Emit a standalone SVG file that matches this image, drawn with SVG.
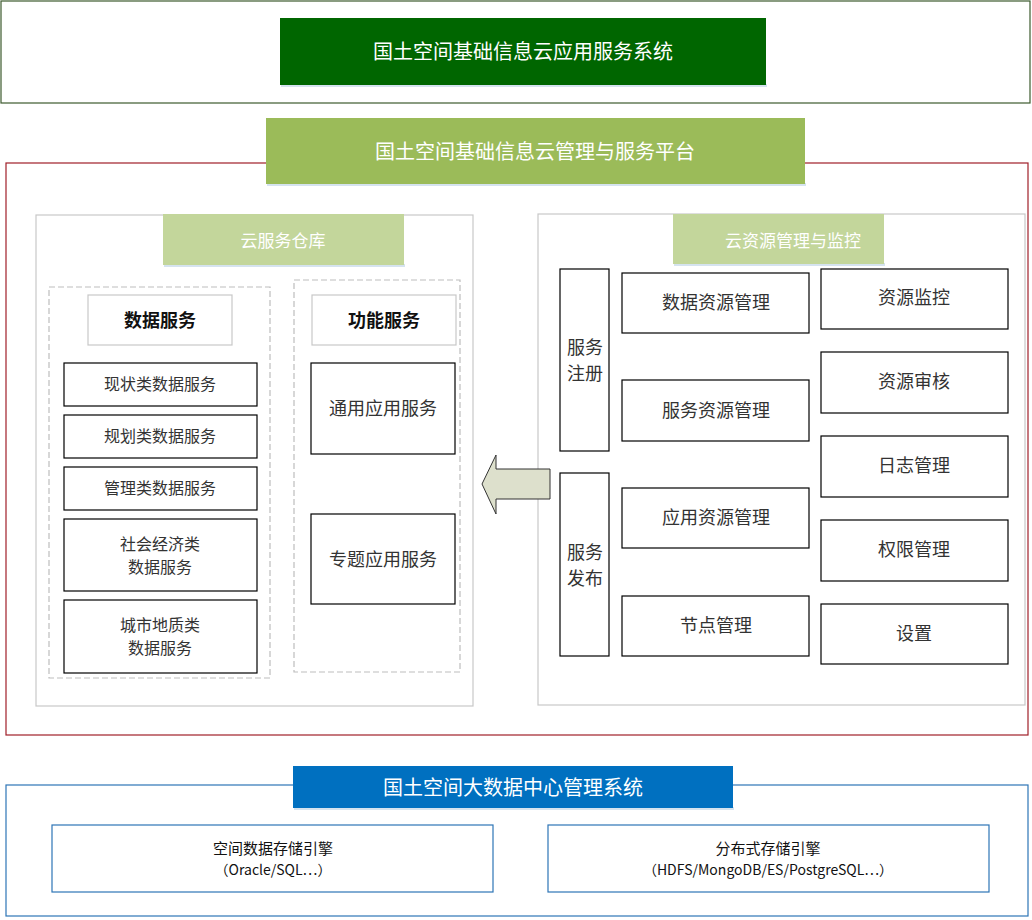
<svg xmlns="http://www.w3.org/2000/svg" width="1032" height="920" viewBox="0 0 1032 920">
<style>
text{font-family:"Noto Sans CJK SC","Liberation Sans",sans-serif;text-anchor:middle;dominant-baseline:central}
.w{fill:#fff}
.box{fill:#fff;stroke:#000;stroke-width:1.2}
.gray{fill:#fff;stroke:#c8c8c8;stroke-width:1.2}
.dash{fill:none;stroke:#bdbdbd;stroke-width:1.2;stroke-dasharray:6 3}
.blue{fill:#fff;stroke:#2e75b6;stroke-width:1.2}
.shadow{fill:#d5e3ef}
.t16{font-size:16px;fill:#333}
.t18{font-size:18px;fill:#333}
</style>
<rect width="1032" height="920" fill="#fff"/>
<g id="app-system">
<rect x="1" y="1" width="1029" height="102" fill="#fff" stroke="#3d5a2e" stroke-width="1.2"/>
<rect class="shadow" x="281" y="84" width="486" height="3"/>
<rect x="280" y="18" width="486" height="67" fill="#006600"/>
<text class="w" x="523" y="50" font-size="20">国土空间基础信息云应用服务系统</text>
</g>
<g id="platform">
<rect x="6" y="163" width="1022" height="572" fill="#fff" stroke="#a01e28" stroke-width="1.2"/>
<rect class="shadow" x="267" y="183" width="539" height="3"/>
<rect x="266" y="118" width="539" height="66" fill="#9bbb59"/>
<text class="w" x="535" y="150" font-size="20">国土空间基础信息云管理与服务平台</text>
</g>
<g id="cloud-warehouse">
<rect class="gray" x="36" y="215" width="437" height="491"/>
<rect class="shadow" x="164" y="264" width="241" height="3"/>
<rect x="163" y="214" width="241" height="51" fill="#c3d69b"/>
<text class="w" x="283" y="239" font-size="17">云服务仓库</text>
</g>
<g id="data-services">
<rect class="dash" x="49" y="287" width="221" height="391"/>
<rect class="gray" x="88" y="295" width="144" height="50"/>
<text x="160" y="319" font-size="18" font-weight="bold" fill="#111">数据服务</text>
</g>
<g id="func-services">
<rect class="dash" x="294" y="280" width="166" height="392"/>
<rect class="gray" x="312" y="295" width="144" height="50"/>
<text x="384" y="319" font-size="18" font-weight="bold" fill="#111">功能服务</text>
</g>
<g id="n-xianzhuang"><rect class="box" x="64" y="363" width="193" height="43"/><text class="t16" x="160" y="383">现状类数据服务</text></g>
<g id="n-guihua"><rect class="box" x="64" y="415" width="193" height="43"/><text class="t16" x="160" y="435">规划类数据服务</text></g>
<g id="n-guanli"><rect class="box" x="64" y="467" width="193" height="43"/><text class="t16" x="160" y="487">管理类数据服务</text></g>
<g id="n-shehui"><rect class="box" x="64" y="519" width="193" height="72"/><text class="t16" x="160" y="543">社会经济类</text><text class="t16" x="160" y="566">数据服务</text></g>
<g id="n-chengshi"><rect class="box" x="64" y="600" width="193" height="73"/><text class="t16" x="160" y="624">城市地质类</text><text class="t16" x="160" y="647">数据服务</text></g>
<g id="n-tongyong"><rect class="box" x="311" y="363" width="144" height="91"/><text class="t18" x="383" y="407">通用应用服务</text></g>
<g id="n-zhuanti"><rect class="box" x="311" y="514" width="144" height="90"/><text class="t18" x="383" y="558">专题应用服务</text></g>
<g id="resource-mgmt">
<rect class="gray" x="538" y="214" width="487" height="491"/>
<rect class="shadow" x="674" y="263" width="211" height="3"/>
<rect x="673" y="214" width="211" height="50" fill="#c3d69b"/>
<text class="w" x="793" y="239" font-size="17">云资源管理与监控</text>
</g>
<g id="n-zhuce"><rect class="box" x="560" y="269" width="49" height="182"/><text class="t18" x="585" y="346">服务</text><text class="t18" x="585" y="372">注册</text></g>
<g id="n-fabu"><rect class="box" x="560" y="473" width="49" height="183"/><text class="t18" x="585" y="551">服务</text><text class="t18" x="585" y="577">发布</text></g>
<g id="n-shujuzy"><rect class="box" x="622" y="273" width="187" height="60"/><text class="t18" x="716" y="301">数据资源管理</text></g>
<g id="n-fuwuzy"><rect class="box" x="622" y="380" width="187" height="61"/><text class="t18" x="716" y="409">服务资源管理</text></g>
<g id="n-yingyongzy"><rect class="box" x="622" y="488" width="187" height="60"/><text class="t18" x="716" y="516">应用资源管理</text></g>
<g id="n-jiedian"><rect class="box" x="622" y="596" width="187" height="60"/><text class="t18" x="716" y="624">节点管理</text></g>
<g id="n-jiankong"><rect class="box" x="821" y="269" width="187" height="60"/><text class="t18" x="914" y="296">资源监控</text></g>
<g id="n-shenhe"><rect class="box" x="821" y="352" width="187" height="61"/><text class="t18" x="914" y="380">资源审核</text></g>
<g id="n-rizhi"><rect class="box" x="821" y="436" width="187" height="61"/><text class="t18" x="914" y="464">日志管理</text></g>
<g id="n-quanxian"><rect class="box" x="821" y="520" width="187" height="61"/><text class="t18" x="914" y="548">权限管理</text></g>
<g id="n-shezhi"><rect class="box" x="821" y="604" width="187" height="60"/><text class="t18" x="914" y="632">设置</text></g>
<g id="connectors">
<polygon points="482,484 496,455 496,469 550,469 550,499 496,499 496,514" fill="#dde0cc" stroke="#333" stroke-width="1"/>
</g>
<g id="bigdata-center">
<rect x="6" y="785" width="1022" height="131" fill="#fff" stroke="#2e75b6" stroke-width="1.2"/>
<rect class="shadow" x="294" y="807" width="440" height="3"/>
<rect x="293" y="766" width="440" height="42" fill="#0070c0"/>
<text class="w" x="513" y="786" font-size="20">国土空间大数据中心管理系统</text>
</g>
<g id="n-spatial"><rect class="blue" x="52" y="825" width="441" height="67"/><text x="273" y="847" font-size="15" fill="#111">空间数据存储引擎</text><text x="273" y="869" font-size="14" fill="#111">（Oracle/SQL…）</text></g>
<g id="n-distributed"><rect class="blue" x="548" y="825" width="441" height="67"/><text x="768" y="847" font-size="15" fill="#111">分布式存储引擎</text><text x="768" y="869" font-size="14" fill="#111">（HDFS/MongoDB/ES/PostgreSQL…）</text></g>
</svg>
